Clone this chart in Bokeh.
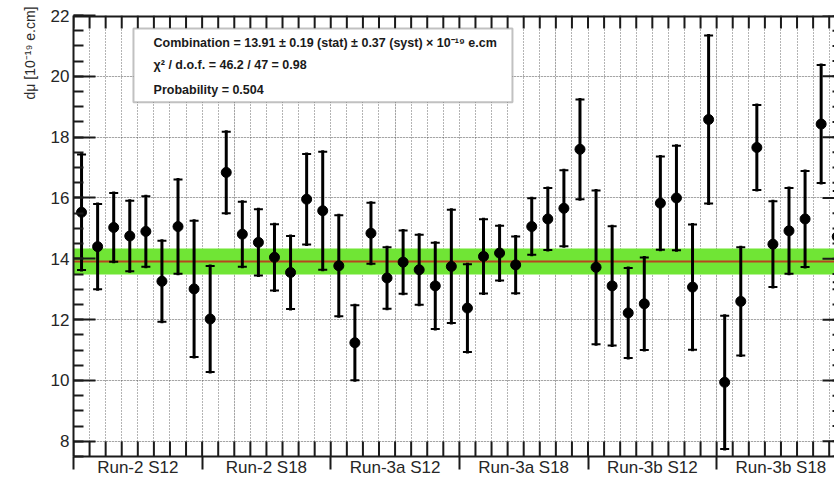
import math
import numpy as np
from bokeh.plotting import figure
from bokeh.models import Range1d, FixedTicker, LinearAxis, Label, BoxAnnotation, Grid, Title
from bokeh.embed import file_html
from bokeh.resources import INLINE

# ---------------- data ----------------
groups = ["Run-2 S12", "Run-2 S18", "Run-3a S12", "Run-3a S18", "Run-3b S12", "Run-3b S18"]
points_per_group = 8

dmu = [15.53, 14.40, 15.03, 14.75, 14.90, 13.26, 15.06, 13.01,
       12.02, 16.84, 14.81, 14.54, 14.05, 13.55, 15.96, 15.58,
       13.77, 11.24, 14.84, 13.37, 13.89, 13.64, 13.11, 13.75,
       12.38, 14.08, 14.19, 13.80, 15.06, 15.31, 15.66, 17.60,
       13.72, 13.11, 12.22, 12.52, 15.83, 16.00, 13.07, 18.58,
       9.94, 12.60, 17.66, 14.48, 14.92, 15.31, 18.43, 14.73]
err = [1.90, 1.40, 1.13, 1.16, 1.16, 1.33, 1.55, 2.24,
       1.74, 1.34, 1.07, 1.09, 1.09, 1.20, 1.49, 1.94,
       1.66, 1.23, 1.00, 1.01, 1.04, 1.15, 1.42, 1.86,
       1.44, 1.22, 0.90, 0.93, 0.93, 1.02, 1.25, 1.64,
       2.53, 1.96, 1.48, 1.52, 1.53, 1.72, 2.06, 2.76,
       2.19, 1.78, 1.40, 1.41, 1.41, 1.58, 1.94, 1.50]

comb = 13.91
comb_stat = 0.19
comb_syst = 0.37
chi2 = 46.2
ndof = 47
prob = 0.504

y_ticks = [8, 10, 12, 14, 16, 18, 20, 22]

# ---------------- derived ----------------
n = len(dmu)
xs = [i + 0.5 for i in range(n)]
lo = [v - e for v, e in zip(dmu, err)]
hi = [v + e for v, e in zip(dmu, err)]
tot = math.sqrt(comb_stat ** 2 + comb_syst ** 2)
boundaries = list(range(0, n + 1, points_per_group))
centers = [b + points_per_group / 2 for b in boundaries[:-1]]
integers = list(range(n + 1))
minor_y = [float(v) for v in np.arange(7.5, 22.01, 0.5)]

FONT = "Liberation Sans"
AX = "#1a1a1a"
X0, X1, Y0, Y1 = 0.0, 47.33, 7.5, 22.0
PX_X = (X1 - X0) / 761.0   # data units per pixel (approx. frame size)
PX_Y = (Y1 - Y0) / 442.0

p = figure(width=834, height=479, x_range=Range1d(X0, X1), y_range=Range1d(Y0, Y1),
           output_backend="svg", toolbar_location=None,
           x_axis_location=None, y_axis_location=None,
           min_border_left=73, min_border_right=0, min_border_top=15, min_border_bottom=22)
p.outline_line_color = None
p.background_fill_color = "white"
p.border_fill_color = "white"

# dotted grids
grid_style = dict(grid_line_color="#4d4d4d", grid_line_dash="1 2", grid_line_width=1, grid_line_alpha=0.85)
p.add_layout(Grid(dimension=0, ticker=FixedTicker(ticks=integers[1:-1]), **grid_style))
p.add_layout(Grid(dimension=1, ticker=FixedTicker(ticks=y_ticks[:-1]), **grid_style))

# combination band and line
p.hstrip(y0=[comb - tot], y1=[comb + tot], fill_color="#70e535", line_color=None)
p.hspan(y=[comb], line_color="#b8441f", line_width=2)

# frame ticks drawn inside (top, bottom, right)
tick_kw = dict(line_color=AX, line_width=2)
p.segment(x0=integers, x1=integers, y0=[Y1 - 13 * PX_Y] * len(integers), y1=[Y1] * len(integers), **tick_kw)
p.segment(x0=integers, x1=integers, y0=[Y0] * len(integers), y1=[Y0 + 15 * PX_Y] * len(integers), **tick_kw)
p.segment(x0=[X1 - 12 * PX_X] * len(y_ticks), x1=[X1] * len(y_ticks), y0=y_ticks, y1=y_ticks, **tick_kw)
p.segment(x0=[X1 - 2 * PX_X] * len(minor_y), x1=[X1] * len(minor_y), y0=minor_y, y1=minor_y, **tick_kw)
p.hspan(y=[Y1], line_color=AX, line_width=4)

# error bars and points
p.segment(x0=xs, y0=lo, x1=xs, y1=hi, line_color="black", line_width=3, line_cap="square")
p.scatter(xs, hi, marker="dash", size=9, line_color="black", line_width=2)
p.scatter(xs, lo, marker="dash", size=9, line_color="black", line_width=2)
p.scatter(xs, dmu, marker="circle", size=10, fill_color="black", line_color="black")

# left axis
left = LinearAxis(ticker=FixedTicker(ticks=y_ticks, minor_ticks=minor_y),
                  major_tick_in=22, major_tick_out=0, minor_tick_in=10, minor_tick_out=0,
                  axis_line_width=2, axis_line_color=AX,
                  major_tick_line_width=2, major_tick_line_color=AX,
                  minor_tick_line_width=2, minor_tick_line_color=AX,
                  major_label_text_font=FONT, major_label_text_font_size="17px",
                  major_label_text_color="#262626", major_label_standoff=4)
p.add_layout(left, "left")

# y-axis title (top aligned)
p.add_layout(Title(text="dμ [10⁻¹⁹ e.cm]", align="right", offset=-9, standoff=19,
                   text_font=FONT, text_font_size="14px", text_font_style="normal",
                   text_color="#2a2a2a"), "left")

# bottom axis: group labels at centers, boundary ticks going out
bottom = LinearAxis(ticker=FixedTicker(ticks=centers, minor_ticks=boundaries),
                    major_tick_in=0, major_tick_out=0, minor_tick_in=0, minor_tick_out=13,
                    axis_line_width=2, axis_line_color=AX,
                    major_tick_line_width=2, major_tick_line_color=AX,
                    minor_tick_line_width=2, minor_tick_line_color=AX,
                    major_label_overrides={c: g for c, g in zip(centers, groups)},
                    major_label_text_font=FONT, major_label_text_font_size="17px",
                    major_label_text_color="#262626", major_label_standoff=-12)
p.add_layout(bottom, "below")

# info box
p.add_layout(BoxAnnotation(left=3.73, right=27.3, top=21.57, bottom=19.15,
                           fill_color="white", fill_alpha=1.0,
                           line_color="#333333", line_width=2))
lines = [
    f"Combination = {comb:.2f} ± {comb_stat:.2f} (stat) ± {comb_syst:.2f} (syst) × 10⁻¹⁹ e.cm",
    f"χ² / d.o.f. = {chi2:.1f} / {ndof} = {chi2 / ndof:.2f}",
    f"Probability = {prob:.3f}",
]
for txt, yy in zip(lines, [21.08, 20.36, 19.54]):
    p.add_layout(Label(x=4.98, y=yy, text=txt, text_align="left", text_baseline="middle",
                       text_font=FONT, text_font_size="12.5px", text_font_style="bold",
                       text_color="#1a1a1a"))

open("out.html", "w").write(file_html(p, INLINE))
